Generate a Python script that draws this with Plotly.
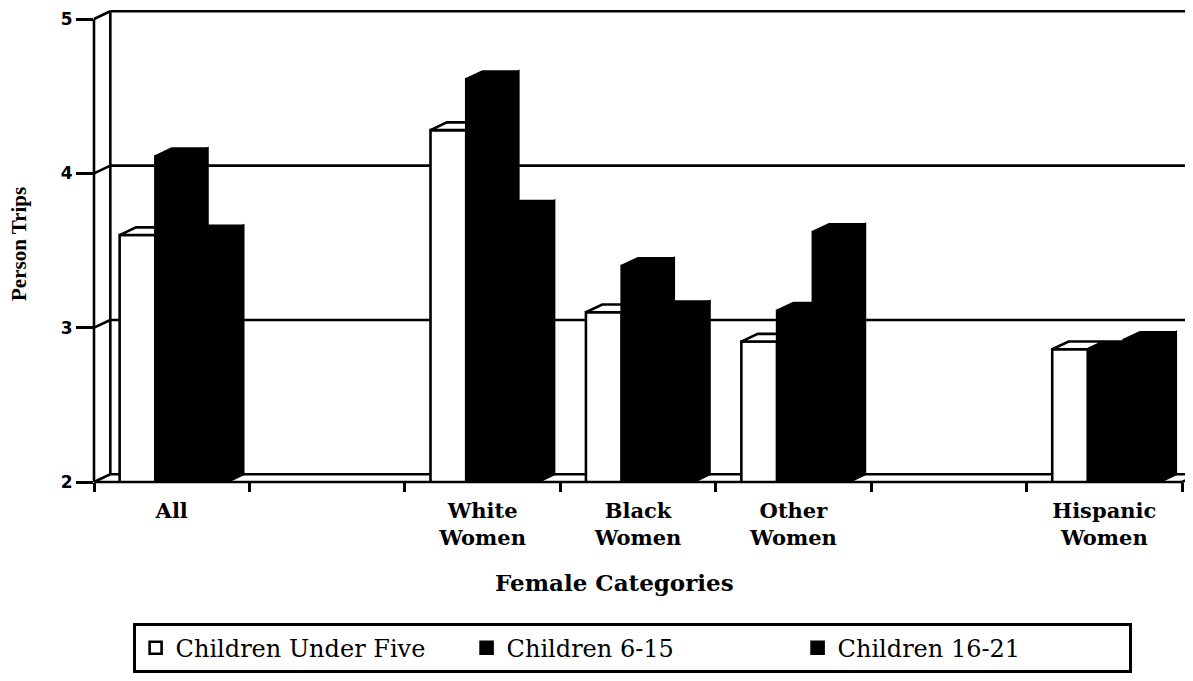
import plotly.graph_objects as go

# ---------------- data ----------------
categories = ["All", "", "White Women", "Black Women", "Other Women", "", "Hispanic Women"]
under_five = [3.60, None, 4.28, 3.10, 2.91, None, 2.86]
kids_6_15 = [4.11, None, 4.61, 3.40, 3.11, None, 2.86]
kids_16_21 = [3.61, None, 3.77, 3.12, 3.62, None, 2.92]
series_names = ["Children Under Five", "Children 6-15", "Children 16-21"]
y_ticks = [2, 3, 4, 5]
x_title = "Female Categories"
y_title = "Person Trips"

# ---------------- style / layout ----------------
series = [under_five, kids_6_15, kids_16_21]
fills = ["white", "black", "black"]
offsets = [-0.335, -0.105, 0.125]
W = 0.23
DX, DY = 0.105, 0.05
LW = 2.6
BASE = y_ticks[0]

# the page body has an 8px margin, so the figure is made 8px smaller
PAGE_OFF = 8
FIG_W, FIG_H = 1193 - PAGE_OFF, 681 - PAGE_OFF
ML, MR, MT = 94 - PAGE_OFF, 0, 8 - PAGE_OFF
MB = FIG_H - (482 - PAGE_OFF)
plot_w = FIG_W - ML - MR
plot_h = FIG_H - MT - MB
n = len(categories)
X_LO = -0.5
X_END = n - 0.5
ppu_x = 1088 / n
X_HI = X_LO + plot_w / ppu_x
ppu_y = 463 / (y_ticks[-1] - y_ticks[0])
Y_LO = BASE
Y_HI = BASE + plot_h / ppu_y


def px(x):
    return (x - X_LO) / (X_HI - X_LO)


def py(y):
    return (y - Y_LO) / (Y_HI - Y_LO)


def pap_x(pix):  # screen pixel -> paper
    return (pix - 94) / plot_w


def pap_y(pix):
    return (482 - pix) / plot_h


fig = go.Figure()
idx = list(range(n))

# front faces (real bars)
for k, vals in enumerate(series):
    fig.add_trace(go.Bar(
        x=idx, y=vals, name=series_names[k],
        offset=offsets[k], width=W,
        marker=dict(color=fills[k], line=dict(color="black", width=LW)),
        customdata=categories,
        hovertemplate="%{customdata}<br>%{y}<extra>" + series_names[k] + "</extra>",
    ))

# top and side faces (3-D look), computed from the data
for k, vals in enumerate(series):
    xs, ys = [], []
    for i, v in enumerate(vals):
        if v is None:
            continue
        x0 = i + offsets[k]
        x1 = x0 + W
        nxt = series[k + 1][i] if k + 1 < len(series) else None
        H = nxt if nxt is not None else BASE
        hc = min(max(H, v), v + DY)
        top = [(x0, v), (x1, v), (x1, hc), (x1 + DX * (v + DY - hc) / DY, v + DY),
               (x0 + DX, v + DY), (x0, v)]
        for a, b in top:
            xs.append(a); ys.append(b)
        xs.append(None); ys.append(None)
        if H < v:
            lo = max(H, BASE)
            side = [(x1, lo), (x1, v), (x1 + DX, v + DY), (x1 + DX, lo + DY), (x1, lo)]
            for a, b in side:
                xs.append(a); ys.append(b)
            xs.append(None); ys.append(None)
    fig.add_trace(go.Scatter(
        x=xs, y=ys, mode="lines", fill="toself", fillcolor=fills[k],
        line=dict(color="black", width=LW), showlegend=False, hoverinfo="skip",
    ))

# ---------------- walls, floor and gridlines ----------------
shapes = []


def line(x0, y0, x1, y1, layer="below"):
    shapes.append(dict(type="line", xref="paper", yref="paper",
                       x0=x0, y0=y0, x1=x1, y1=y1, layer=layer,
                       line=dict(color="black", width=LW)))


for t in y_ticks:
    line(px(X_LO + DX), py(t + DY), 1.0, py(t + DY))          # back wall gridline
    line(px(X_LO), py(t), px(X_LO + DX), py(t + DY))          # wall depth connector
line(px(X_LO + DX), py(BASE + DY), px(X_LO + DX), py(y_ticks[-1] + DY))
line(px(X_LO), py(BASE), px(X_LO), py(y_ticks[-1]), layer="above")
line(px(X_LO), py(BASE), px(X_END), py(BASE), layer="above")
line(px(X_END), py(BASE), px(X_END + DX), py(BASE + DY), layer="above")

tick_text = [c.replace(" ", "<br>") for c in categories]

fig.update_layout(
    width=FIG_W, height=FIG_H,
    margin=dict(l=ML, r=MR, t=MT, b=MB, autoexpand=False),
    paper_bgcolor="white", plot_bgcolor="white",
    barmode="overlay",
    shapes=shapes,
    showlegend=True,
    legend=dict(
        orientation="h", x=pap_x(133), xanchor="left", y=pap_y(623), yanchor="top",
        bordercolor="black", borderwidth=LW, bgcolor="white",
        font=dict(family="DejaVu Serif", size=24, color="black"),
        entrywidth=286, entrywidthmode="pixels", traceorder="normal",
    ),
    xaxis=dict(
        type="linear", range=[X_LO, X_HI],
        tickmode="array", tickvals=idx, ticktext=tick_text, ticks="",
        ticklabelstandoff=14,
        tickfont=dict(family="DejaVu Serif", size=21, color="black", weight="bold"),
        minor=dict(tickmode="array", tickvals=[i - 0.5 for i in range(n + 1)],
                   ticks="outside", ticklen=9, tickwidth=LW, tickcolor="black",
                   showgrid=False),
        showgrid=False, zeroline=False, showline=False, fixedrange=True,
    ),
    yaxis=dict(
        range=[Y_LO, Y_HI], tickmode="array", tickvals=y_ticks,
        ticks="outside", ticklen=17, tickwidth=LW, tickcolor="black",
        tickfont=dict(family="DejaVu Sans", size=17, color="black", weight="bold"),
        showgrid=False, zeroline=False, showline=False, fixedrange=True,
    ),
    annotations=[
        dict(text=x_title, xref="paper", yref="paper", x=pap_x(614), y=pap_y(582),
             showarrow=False, xanchor="center", yanchor="middle",
             font=dict(family="DejaVu Serif", size=23, color="black", weight="bold")),
        dict(text=y_title, xref="paper", yref="paper", x=pap_x(19), y=pap_y(244),
             showarrow=False, xanchor="center", yanchor="middle", textangle=-90,
             font=dict(family="Liberation Serif", size=21, color="black", weight="bold")),
    ],
)

fig.write_html("out.html")
